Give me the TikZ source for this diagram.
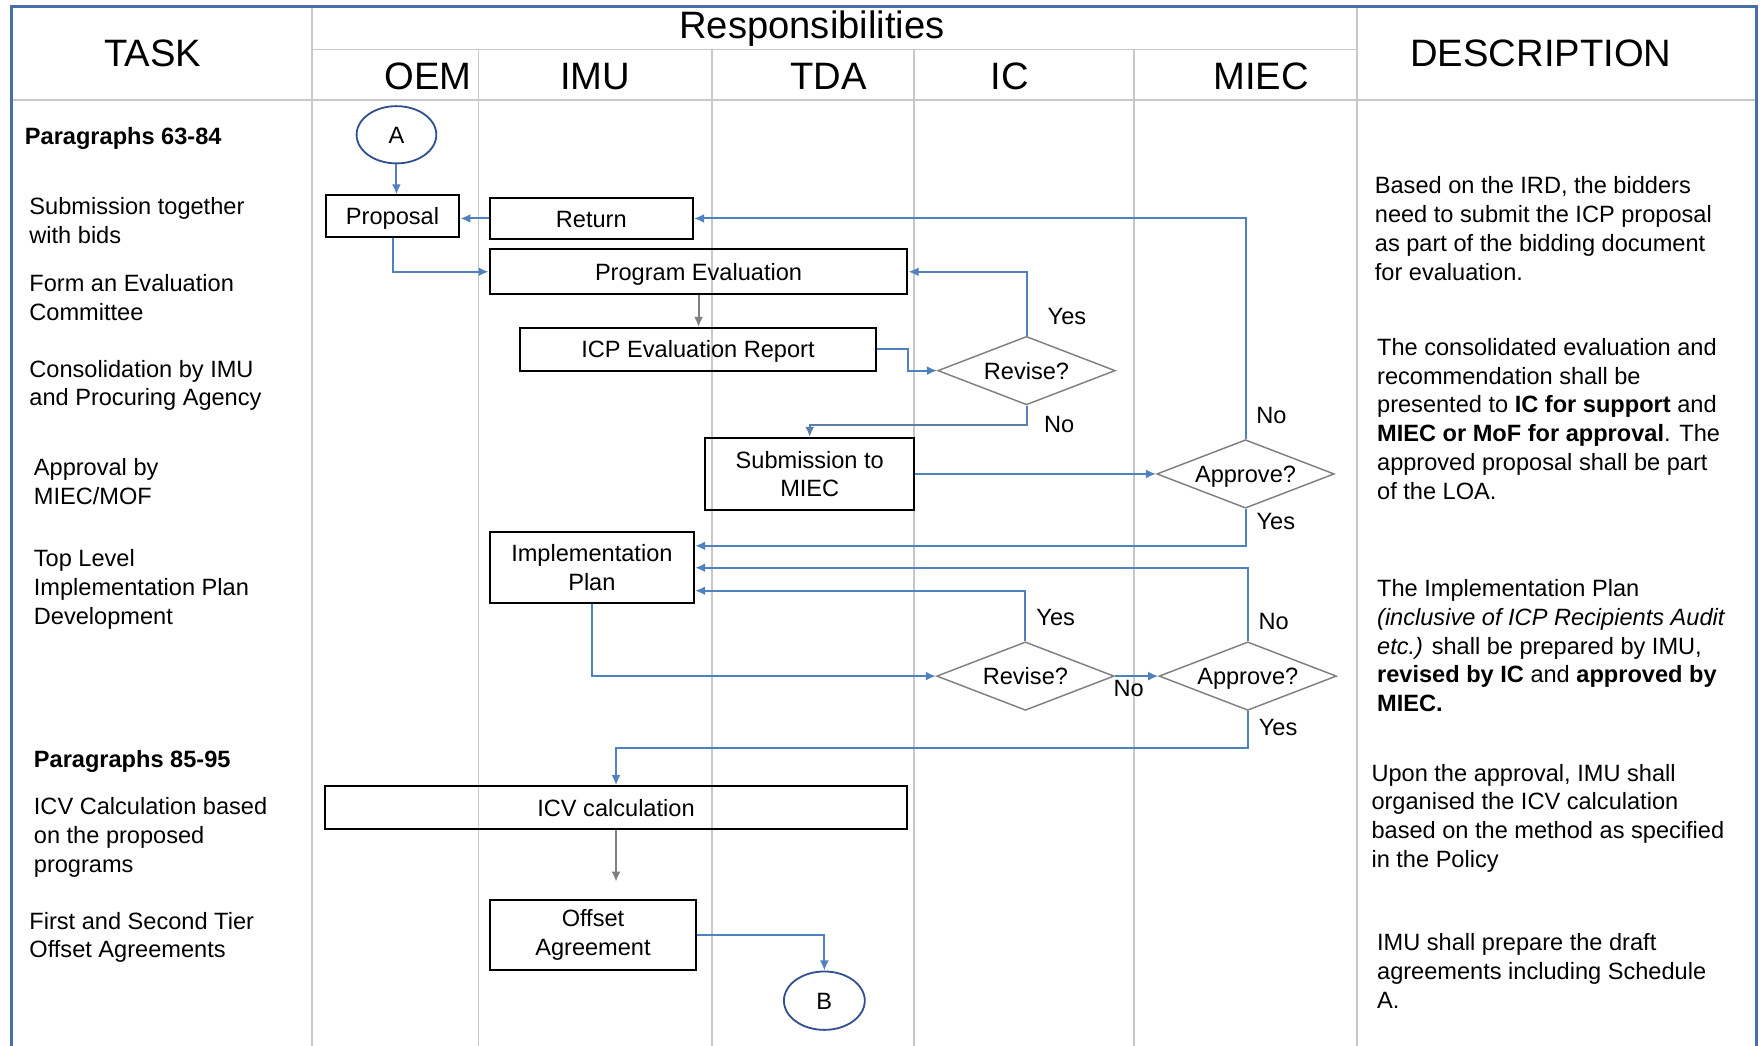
\documentclass[tikz,border=0pt]{standalone}
\usepackage{fontspec}
\setmainfont{Liberation Sans}
\usetikzlibrary{shapes.geometric,arrows.meta}
\definecolor{flowblue}{HTML}{4F81BD}
\definecolor{framecol}{HTML}{4A6FA5}
\definecolor{gridcol}{HTML}{C8C8C8}
\definecolor{arrgray}{HTML}{7F7F7F}
\definecolor{circcol}{HTML}{2F4F8F}
\definecolor{diagray}{HTML}{808080}
\definecolor{nogray}{HTML}{5B7FA8}
\begin{document}
\begin{tikzpicture}[x=1pt,y=-1pt,
  every node/.style={font=\fontsize{21}{25.5}\selectfont, inner sep=0pt},
  head/.style={font=\fontsize{34}{40}\selectfont},
  ttext/.style={anchor=west, align=left},
  dtext/.style={anchor=west, align=left, font=\fontsize{21}{25.6}\selectfont},
  box/.style={draw=black, line width=1.8pt, align=center},
  onel/.style={text height=19.5pt, text depth=4pt},
  dec/.style={draw=diagray, line width=1.3pt, shape=diamond, aspect=2.6, minimum width=158pt, minimum height=61pt, text height=19pt, text depth=4pt},
  conn/.style={draw=circcol, line width=1.6pt, shape=ellipse},
  flow/.style={draw=flowblue, line width=1.8pt, -{Latex[length=9pt,width=8pt]}},
  flowg/.style={draw=arrgray, line width=1.8pt, -{Latex[length=9pt,width=8pt]}},
  gridl/.style={draw=gridcol, line width=1.5pt}
]
\fill[white] (0,0) rectangle (1568,931);
\useasboundingbox (0,0) rectangle (1568,931);

% grid
\draw[gridl] (278,6) -- (278,931);
\draw[gridl] (1208,6) -- (1208,931);
\draw[gridl] (278,44) -- (1208,44);
\draw[gridl] (10,89) -- (1564,89);
\foreach \xx in {426,634,814,1010} {\draw[gridl] (\xx,44) -- (\xx,931);}
\draw[framecol, line width=3pt] (10,931) -- (10,6) -- (1564,6) -- (1564,931);

% headers
\node[head] (hTask) at (136,47.5) {TASK};
\node[head] (hResp) at (723,25.5) {Responsibilities};
\node[head] (hOEM) at (381,68) {OEM};
\node[head] (hIMU) at (530,68) {IMU};
\node[head] (hTDA) at (738,68) {TDA};
\node[head] (hIC) at (899,68) {IC};
\node[head] (hMIEC) at (1123,68) {MIEC};
\node[head] (hDesc) at (1372,47.5) {DESCRIPTION};

% task column
\node[ttext, font=\fontsize{21}{25.5}\selectfont\bfseries] (t1) at (22,123) {Paragraphs 63-84};
\node[ttext] (t2) at (26,196.5) {Submission together\\with bids};
\node[ttext] (t3) at (26,265) {Form an Evaluation\\Committee};
\node[ttext] (t4) at (26,343) {Consolidation by IMU\\and Procuring Agency};
\node[ttext] (t5) at (30,429) {Approval by\\MIEC/MOF};
\node[ttext] (t6) at (30,524.7) {Top Level\\Implementation Plan\\Development};
\node[ttext, font=\fontsize{21}{25.5}\selectfont\bfseries] (t7) at (30,678) {Paragraphs 85-95};
\node[ttext] (t8) at (30,745.7) {ICV Calculation based\\on the proposed\\programs};
\node[ttext] (t9) at (26,834.5) {First and Second Tier\\Offset Agreements};

% description column
\node[dtext] (d1) at (1224,203.5) {Based on the IRD, the bidders\\need to submit the ICP proposal\\as part of the bidding document\\for evaluation.};
\node[dtext] (d2) at (1226,373) {The consolidated evaluation and\\recommendation shall be\\presented to \textbf{IC for support} and\\\textbf{MIEC or MoF for approval}. The\\approved proposal shall be part\\of the LOA.};
\node[dtext] (d3) at (1226,575) {The Implementation Plan\\\textit{(inclusive of ICP Recipients Audit}\\\textit{etc.)} shall be prepared by IMU,\\\textbf{revised by IC} and \textbf{approved by}\\\textbf{MIEC.}};
\node[dtext] (d4) at (1221,728.5) {Upon the approval, IMU shall\\organised the ICV calculation\\based on the method as specified\\in the Policy};
\node[dtext] (d5) at (1226,864.5) {IMU shall prepare the draft\\agreements including Schedule\\A.};

% flow nodes
\node[conn, minimum width=71pt, minimum height=51pt, onel] (A) at (353,120) {A};
\node[box, onel, minimum width=119pt, minimum height=37pt] (prop) at (349.5,192.5) {Proposal};
\node[box, onel, minimum width=181pt, minimum height=37pt] (ret) at (526.5,194.5) {Return};
\node[box, onel, minimum width=372pt, minimum height=40pt] (peval) at (622,242) {Program Evaluation};
\node[box, onel, minimum width=317pt, minimum height=38pt] (icp) at (621.5,311) {ICP Evaluation Report};
\node[dec] (rev1) at (914,330) {Revise?};
\node[box, minimum width=186pt, minimum height=64pt] (subm) at (721,422) {Submission to\\MIEC};
\node[dec] (app1) at (1109,422) {Approve?};
\node[box, minimum width=182pt, minimum height=63pt] (impl) at (527,505.5) {Implementation\\Plan};
\node[dec] (rev2) at (913,602) {Revise?};
\node[dec] (app2) at (1111,602) {Approve?};
\node[box, onel, minimum width=519pt, minimum height=38pt] (icv) at (548.5,719) {ICV calculation};
\node[box, minimum width=184pt, minimum height=63pt] (offs) at (528,832.5) {\rule{0pt}{15pt}Offset\\Agreement};
\node[conn, minimum width=72pt, minimum height=52pt, onel] (B) at (734,891) {B};

% connectors
\draw[flow] (A.south) -- (A.south |- prop.north);
\draw[flow] (ret.west) -- (ret.west -| prop.east);
\draw[flow] (prop.south) |- (peval.west);
\draw[flowg] (peval.south) -- (peval.south |- icp.north);
\draw[flow] (icp.east) -- ++(28,0) |- (rev1.west);
\draw[flow] (rev1.north) |- (peval.east);
\draw[flow, draw=nogray] (rev1.south) -- ++(0,17) -| (subm.north);
\draw[flow] (subm.east) -- (app1.west);
\draw[flow] (app1.north) |- (ret.east);
\coordinate (implA) at ([yshift=19.5pt]impl.east);
\coordinate (implC) at ([yshift=-20.5pt]impl.east);
\draw[flow] (app1.south) |- (implA);
\draw[flow] (app2.north) |- (impl.east);
\draw[flow] (rev2.north) |- (implC);
\draw[flow] (impl.south) |- (rev2.west);
\draw[flow] (rev2.east) -- (app2.west);
\draw[flow] (app2.south) -- ++(0,33) -| (icv.north);
\draw[flowg, shorten >=15pt] (icv.south) -- (icv.south |- offs.north);
\draw[flow] (offs.east) -| (B.north);

% labels
\node (lY1) at (950,282) {Yes};
\node (lN1) at (943,378) {No};
\node (lN2) at (1132,370) {No};
\node (lY2) at (1136,464) {Yes};
\node (lY3) at (940,550) {Yes};
\node (lN3) at (1134,553) {No};
\node (lN4) at (1005,613) {No};
\node (lY4) at (1138,648) {Yes};
\end{tikzpicture}
\end{document}
